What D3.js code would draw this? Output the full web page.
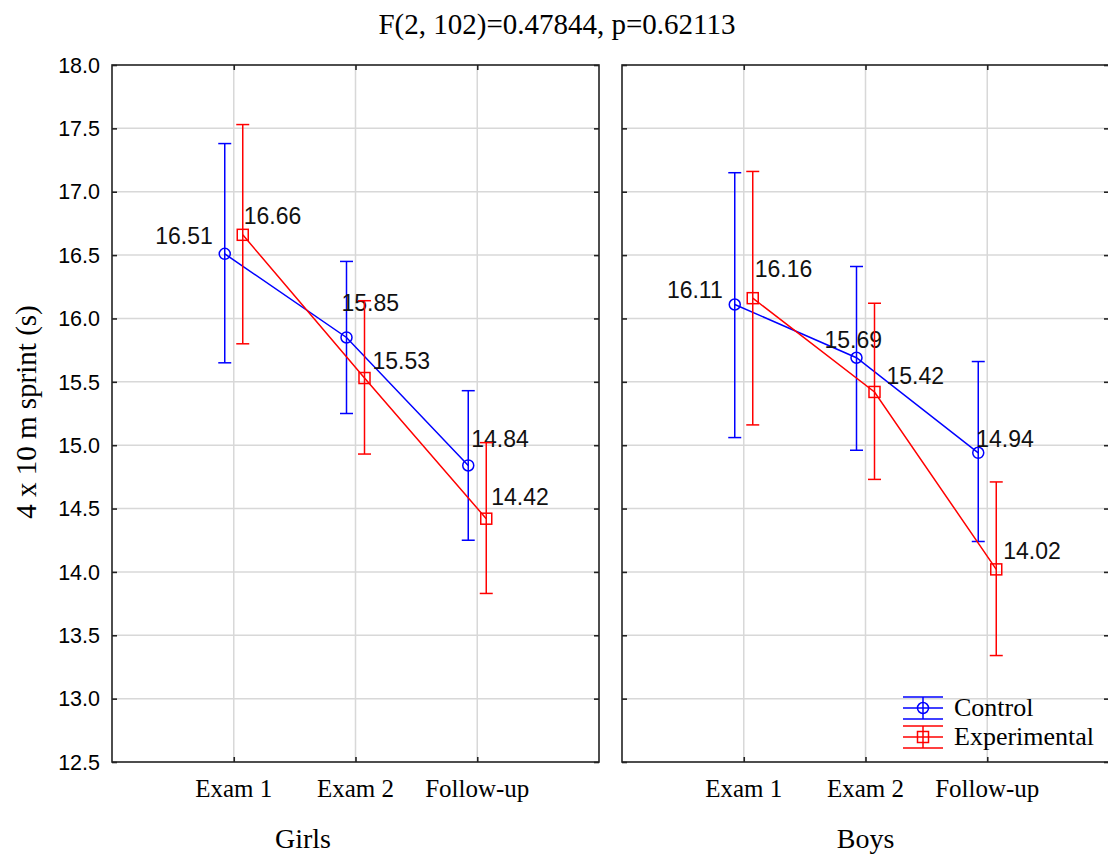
<!DOCTYPE html>
<html><head><meta charset="utf-8">
<script src="https://cdn.jsdelivr.net/npm/d3@7"></script>
<style>body{margin:0;background:#fff}svg{display:block}</style>
</head><body>
<svg id="chart" width="1108" height="855"></svg>
<script>
const categories = ["Exam 1", "Exam 2", "Follow-up"];
const panels = ["Girls", "Boys"];
const seriesNames = ["Control", "Experimental"];
const yTicks = [12.5, 13.0, 13.5, 14.0, 14.5, 15.0, 15.5, 16.0, 16.5, 17.0, 17.5, 18.0];
const titleText = "F(2, 102)=0.47844, p=0.62113";
const yTitle = "4 x 10 m sprint (s)";

const girlsControlMean = [16.51, 15.85, 14.84];
const girlsControlLow  = [15.65, 15.25, 14.25];
const girlsControlHigh = [17.38, 16.45, 15.43];
const girlsExpMean = [16.66, 15.53, 14.42];
const girlsExpLow  = [15.80, 14.93, 13.83];
const girlsExpHigh = [17.53, 16.14, 15.02];
const boysControlMean = [16.11, 15.69, 14.94];
const boysControlLow  = [15.06, 14.96, 14.24];
const boysControlHigh = [17.15, 16.41, 15.66];
const boysExpMean = [16.16, 15.42, 14.02];
const boysExpLow  = [15.16, 14.73, 13.34];
const boysExpHigh = [17.16, 16.12, 14.71];

// label placement (dx, dy, anchor) relative to the point
const labelPlacement = {
  Girls: { Control: [[-12,-10,"end"],[-5,-26,"start"],[3,-18,"start"]],
           Experimental: [[1,-11,"start"],[8,-9,"start"],[5,-14,"start"]] },
  Boys:  { Control: [[-12,-7,"end"],[-32,-10,"start"],[-2,-6,"start"]],
           Experimental: [[2,-21,"start"],[12,-8,"start"],[7,-10,"start"]] }
};

const data = {
  Girls: { Control: {mean: girlsControlMean, low: girlsControlLow, high: girlsControlHigh},
           Experimental: {mean: girlsExpMean, low: girlsExpLow, high: girlsExpHigh} },
  Boys:  { Control: {mean: boysControlMean, low: boysControlLow, high: boysControlHigh},
           Experimental: {mean: boysExpMean, low: boysExpLow, high: boysExpHigh} }
};

const colors = { Control: "#0000ff", Experimental: "#ff0000" };
const seriesOffset = { Control: -9, Experimental: 9 };

const svg = d3.select("#chart");
const plotTop = 65, plotBottom = 762;
const panelX = { Girls: [112, 599], Boys: [622, 1109] };
const y = d3.scaleLinear().domain([12.5, 18.0]).range([plotBottom, plotTop]);

const serif = "'Liberation Serif','Times New Roman',serif";
const sans = "'Liberation Sans',Arial,sans-serif";

svg.append("text").attr("x", 557).attr("y", 34).attr("text-anchor", "middle")
  .attr("font-family", serif).attr("font-size", 29).text(titleText);

svg.append("text").attr("transform", "translate(36,412) rotate(-90)")
  .attr("text-anchor", "middle").attr("font-family", serif).attr("font-size", 29).text(yTitle);

panels.forEach((p, pi) => {
  const [x0, x1] = panelX[p];
  const x = d3.scalePoint().domain(categories).range([x0, x1]).padding(1);
  const g = svg.append("g");

  // grid
  g.selectAll(".hg").data(yTicks.filter(t => t > 12.5 && t < 18)).enter().append("line")
    .attr("x1", x0).attr("x2", x1).attr("y1", d => y(d)).attr("y2", d => y(d))
    .attr("stroke", "#d8d8d8").attr("stroke-width", 1.5);
  g.selectAll(".vg").data(categories).enter().append("line")
    .attr("x1", d => x(d)).attr("x2", d => x(d)).attr("y1", plotTop).attr("y2", plotBottom)
    .attr("stroke", "#d8d8d8").attr("stroke-width", 1.5);

  // frame
  g.append("rect").attr("x", x0).attr("y", plotTop).attr("width", x1 - x0).attr("height", plotBottom - plotTop)
    .attr("fill", "none").attr("stroke", "#222").attr("stroke-width", 1.6);

  // inward ticks
  const leftAxis = d3.axisRight(y).tickValues(yTicks).tickSize(5).tickFormat("");
  g.append("g").attr("transform", `translate(${x0},0)`).call(leftAxis)
    .call(s => s.select(".domain").remove()).selectAll("line").attr("stroke", "#222").attr("stroke-width", 1.6);
  const rightAxis = d3.axisLeft(y).tickValues(yTicks).tickSize(5).tickFormat("");
  g.append("g").attr("transform", `translate(${x1},0)`).call(rightAxis)
    .call(s => s.select(".domain").remove()).selectAll("line").attr("stroke", "#222").attr("stroke-width", 1.6);
  const topAxis = d3.axisBottom(x).tickSize(5).tickFormat("");
  g.append("g").attr("transform", `translate(0,${plotTop})`).call(topAxis)
    .call(s => s.select(".domain").remove()).selectAll("line").attr("stroke", "#222").attr("stroke-width", 1.6);
  const bottomAxis = d3.axisTop(x).tickSize(5).tickFormat("");
  g.append("g").attr("transform", `translate(0,${plotBottom})`).call(bottomAxis)
    .call(s => s.select(".domain").remove()).selectAll("line").attr("stroke", "#222").attr("stroke-width", 1.6);

  // y tick labels (left panel only)
  if (pi === 0) {
    g.selectAll(".yl").data(yTicks).enter().append("text")
      .attr("x", x0 - 12).attr("y", d => y(d)).attr("dy", "0.36em").attr("text-anchor", "end")
      .attr("font-family", sans).attr("font-size", 21.5).text(d => d.toFixed(1));
  }

  // category labels
  g.selectAll(".cl").data(categories).enter().append("text")
    .attr("x", d => x(d)).attr("y", 797).attr("text-anchor", "middle")
    .attr("font-family", serif).attr("font-size", 25).text(d => d);

  // panel label
  g.append("text").attr("x", pi === 0 ? 303 : (x0 + x1) / 2).attr("y", 848).attr("text-anchor", "middle")
    .attr("font-family", serif).attr("font-size", 28).text(p);

  seriesNames.forEach(s => {
    const d = data[p][s];
    const c = colors[s];
    const px = i => x(categories[i]) + seriesOffset[s];
    const pts = d.mean.map((m, i) => ({i, m, lo: d.low[i], hi: d.high[i]}));

    // error bars
    pts.forEach(pt => {
      g.append("line").attr("x1", px(pt.i)).attr("x2", px(pt.i)).attr("y1", y(pt.lo)).attr("y2", y(pt.hi))
        .attr("stroke", c).attr("stroke-width", 1.5);
      [pt.lo, pt.hi].forEach(v => g.append("line").attr("x1", px(pt.i) - 6.5).attr("x2", px(pt.i) + 6.5)
        .attr("y1", y(v)).attr("y2", y(v)).attr("stroke", c).attr("stroke-width", 1.5));
    });

    // line
    g.append("path").datum(pts)
      .attr("d", d3.line().x(pt => px(pt.i)).y(pt => y(pt.m)))
      .attr("fill", "none").attr("stroke", c).attr("stroke-width", 1.5);

    // markers
    pts.forEach(pt => {
      if (s === "Control") {
        g.append("circle").attr("cx", px(pt.i)).attr("cy", y(pt.m)).attr("r", 5.5)
          .attr("fill", "none").attr("stroke", c).attr("stroke-width", 1.5);
      } else {
        g.append("rect").attr("x", px(pt.i) - 5.5).attr("y", y(pt.m) - 5.5).attr("width", 11).attr("height", 11)
          .attr("fill", "none").attr("stroke", c).attr("stroke-width", 1.5);
      }
    });

    // value labels
    pts.forEach(pt => {
      const [dx, dy, anchor] = labelPlacement[p][s][pt.i];
      g.append("text").attr("x", px(pt.i) + dx).attr("y", y(pt.m) + dy).attr("text-anchor", anchor)
        .attr("font-family", sans).attr("font-size", 23).attr("fill", "#111").text(pt.m.toFixed(2));
    });
  });
});

// legend
const leg = svg.append("g");
seriesNames.forEach((s, i) => {
  const cy = 708 + i * 29;
  const c = colors[s];
  const lx0 = 903, lx1 = 943, lxc = 923;
  [cy - 11, cy, cy + 11].forEach(yy => leg.append("line").attr("x1", lx0).attr("x2", lx1)
    .attr("y1", yy).attr("y2", yy).attr("stroke", c).attr("stroke-width", 1.5));
  leg.append("line").attr("x1", lxc).attr("x2", lxc).attr("y1", cy - 11).attr("y2", cy + 11)
    .attr("stroke", c).attr("stroke-width", 1.5);
  if (s === "Control") {
    leg.append("circle").attr("cx", lxc).attr("cy", cy).attr("r", 5.5).attr("fill", "none").attr("stroke", c).attr("stroke-width", 1.5);
  } else {
    leg.append("rect").attr("x", lxc - 5.5).attr("y", cy - 5.5).attr("width", 11).attr("height", 11).attr("fill", "none").attr("stroke", c).attr("stroke-width", 1.5);
  }
  leg.append("text").attr("x", 954).attr("y", cy + 8).attr("font-family", serif).attr("font-size", 26).text(s);
});
</script>
</body></html>
